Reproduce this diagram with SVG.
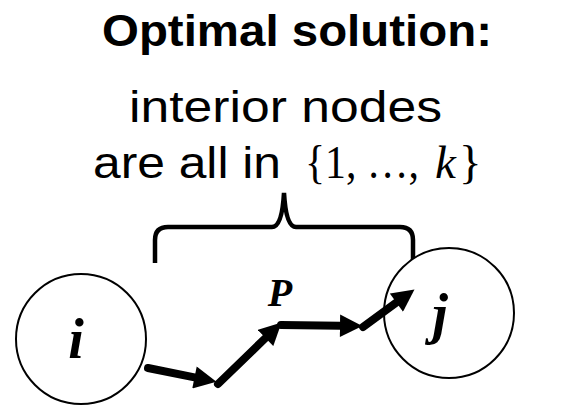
<svg xmlns="http://www.w3.org/2000/svg" width="564" height="409" viewBox="0 0 564 409">
<defs>
<style>
.t{font-family:"Liberation Sans",Arial,sans-serif;fill:#000}
.m{font-family:"Liberation Serif","DejaVu Serif",serif;fill:#000;font-size:47px}
.node{fill:#fff;stroke:#000;stroke-width:2}
.lbl{font-family:"Liberation Serif","DejaVu Serif",serif;font-style:italic;font-weight:bold;fill:#000}
.edge{stroke:#000;stroke-width:8;fill:none;stroke-linecap:round}
</style>
<marker id="ah" viewBox="0 0 10 10" refX="0" refY="5" markerWidth="2.9" markerHeight="2.8" orient="auto" markerUnits="strokeWidth">
<path d="M0,0 L10,5 L0,10 z" fill="#000"/>
</marker>
</defs>
<rect width="564" height="409" fill="#fff"/>
<text class="t" x="297" y="46" font-size="45" font-weight="bold" text-anchor="middle" textLength="390" lengthAdjust="spacingAndGlyphs">Optimal solution:</text>
<text class="t" x="129" y="122" font-size="44" textLength="313" lengthAdjust="spacingAndGlyphs">interior nodes</text>
<text class="t" x="93" y="178" font-size="44" textLength="188" lengthAdjust="spacingAndGlyphs">are all in</text>
<text class="m" x="305" y="178" textLength="114" lengthAdjust="spacingAndGlyphs">{1, …,</text>
<text class="m" x="435" y="178" font-style="italic">k</text>
<text class="m" x="459" y="178">}</text>
<g id="brace">
<path d="M155,263 L155,240 Q155,227 168,227 L272,227 Q282,227 284,193 Q286,227 296,227 L400,227 Q413,227 413,240 L413,263" fill="none" stroke="#000" stroke-width="4.5"/>
</g>
<g id="node-i">
<circle class="node" cx="81" cy="339" r="65"/>
<text class="lbl" x="76" y="358" font-size="56" text-anchor="middle">i</text>
</g>
<g id="node-j">
<circle class="node" cx="449" cy="313" r="65"/>
<text class="lbl" x="440" y="333" font-size="56" text-anchor="middle">j</text>
</g>
<g id="label-P">
<text class="lbl" x="280" y="306" font-size="40" text-anchor="middle">P</text>
</g>
<g id="connectors">
<line class="edge" x1="148" y1="368" x2="194.5" y2="377.4" marker-end="url(#ah)"/>
<line class="edge" x1="218" y1="384" x2="265.5" y2="338" marker-end="url(#ah)"/>
<line class="edge" x1="281" y1="325" x2="340" y2="325.7" marker-end="url(#ah)"/>
<line class="edge" x1="363" y1="327" x2="396.4" y2="302.6" marker-end="url(#ah)"/>
</g>
</svg>
